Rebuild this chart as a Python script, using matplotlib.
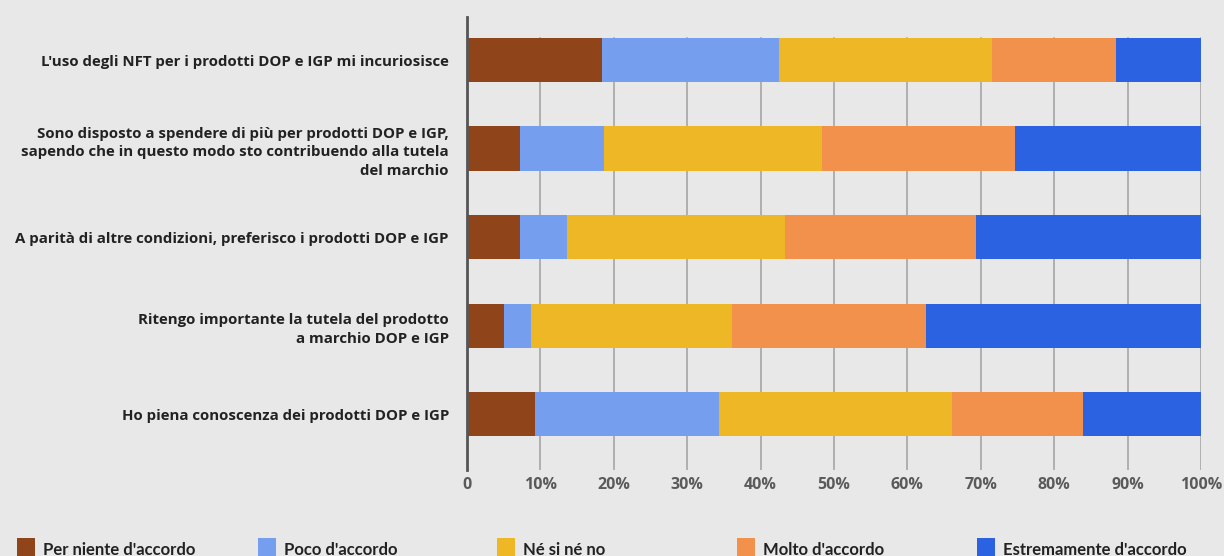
import matplotlib
matplotlib.use('Agg')
import matplotlib.pyplot as plt
from matplotlib.patches import Rectangle
import numpy as np

# statements, top to bottom
labels = [
    "L'uso degli NFT per i prodotti DOP e IGP mi incuriosisce",
    "Sono disposto a spendere di più per prodotti DOP e IGP,\nsapendo che in questo modo sto contribuendo alla tutela\ndel marchio",
    "A parità di altre condizioni, preferisco i prodotti DOP e IGP",
    "Ritengo importante la tutela del prodotto\na marchio DOP e IGP",
    "Ho piena conoscenza dei prodotti DOP e IGP",
]

answers = ["Per niente d'accordo", "Poco d'accordo", "Né si né no",
           "Molto d'accordo", "Estremamente d'accordo"]
colors = ['#8f4519', '#759eee', '#edb726', '#f1914b', '#2a62e2']

# percentages per answer (same order as labels)
per_niente = [18.4, 7.2, 7.2, 5.0, 9.3]
poco = [24.1, 11.5, 6.4, 3.7, 25.0]
ne_si_ne_no = [29.0, 29.6, 29.7, 27.4, 31.8]
molto = [16.9, 26.3, 26.1, 26.5, 17.8]
estremamente = [11.6, 25.4, 30.6, 37.4, 16.1]

xticks = [0, 10, 20, 30, 40, 50, 60, 70, 80, 90, 100]
xticklabels = ['0', '10%', '20%', '30%', '40%', '50%', '60%', '70%', '80%', '90%', '100%']

bg = '#e8e8e8'
W, H = 1224, 556
fig = plt.figure(figsize=(W / 100, H / 100), dpi=100, facecolor=bg)
ax = fig.add_axes([467 / W, 1 - 470 / H, (1201 - 467) / W, (470 - 17) / H])
ax.set_facecolor(bg)

# grid lines (start at top of first bar)
for x in xticks[1:]:
    ax.axvline(x, ymin=0, ymax=(470 - 38) / (470 - 17), color='#a0a0a0', lw=1.1, zorder=0)

y = np.arange(len(labels))
left = np.zeros(len(labels))
series = [per_niente, poco, ne_si_ne_no, molto, estremamente]
for vals, c, name in zip(series, colors, answers):
    ax.barh(y, vals, left=left, height=0.5, color=c, label=name, zorder=2)
    left += np.array(vals)

ax.set_xlim(0, 100)
ax.set_ylim(4 + 0.63, -0.486)
ax.set_yticks(y)
ax.set_yticklabels(labels, fontsize=10.8, fontweight='bold', color='#222222',
                   family=['Open Sans', 'DejaVu Sans'], linespacing=1.42, ha='right')
ax.set_xticks(xticks)
ax.set_xticklabels(xticklabels, fontsize=11.5, fontweight='bold', color='#5a5a5a',
                   family=['Open Sans', 'DejaVu Sans'])
ax.tick_params(axis='y', length=0, pad=13)
ax.tick_params(axis='x', length=0, pad=5)

for s in ['top', 'right', 'bottom']:
    ax.spines[s].set_visible(False)
ax.spines['left'].set_color('#555555')
ax.spines['left'].set_linewidth(2)
ax.spines['left'].set_zorder(3)

# legend along the bottom edge
leg_x = [17, 258, 497, 737, 977]
for lx, c, name in zip(leg_x, colors, answers):
    fig.patches.append(Rectangle((lx / W, 0), 18 / W, 18 / H, transform=fig.transFigure,
                                 facecolor=c, edgecolor='none'))
    fig.text((lx + 26) / W, 1 / H, name, fontsize=12, fontweight='bold', color='#222222',
             family=['Lato', 'DejaVu Sans'], va='baseline', ha='left')

fig.savefig('out.png', dpi=100, facecolor=bg)
